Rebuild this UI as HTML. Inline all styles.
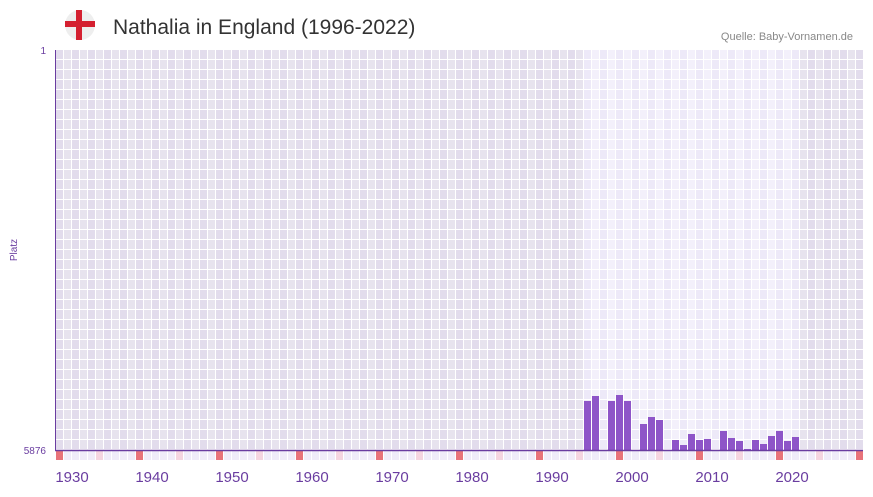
<!DOCTYPE html>
<html><head><meta charset="utf-8"><style>
body{margin:0;background:#fff;width:873px;height:492px;overflow:hidden;font-family:"Liberation Sans",sans-serif}
</style></head><body>
<svg width="873" height="492" xmlns="http://www.w3.org/2000/svg">
<defs>
<pattern id="pd" x="56" y="50" width="16" height="10" patternUnits="userSpaceOnUse">
<rect width="16" height="10" fill="#fff"/>
<rect x="0" y="0" width="7" height="9" fill="#e2dcec"/>
<rect x="8" y="0" width="7" height="9" fill="#e7e3ee"/>
</pattern>
<pattern id="pl" x="56" y="50" width="16" height="10" patternUnits="userSpaceOnUse">
<rect width="16" height="10" fill="#fff"/>
<rect x="0" y="0" width="7" height="9" fill="#ede9f8"/>
<rect x="8" y="0" width="7" height="9" fill="#f3f0fb"/>
</pattern>
<pattern id="pm" x="56" y="451" width="8" height="9" patternUnits="userSpaceOnUse">
<rect width="8" height="9" fill="#fff"/>
<rect width="7" height="9" fill="#f0ecf9"/>
</pattern>
</defs>
<circle cx="80" cy="25" r="15" fill="#eee"/>
<rect x="65" y="21" width="30" height="6" fill="#d42030"/>
<rect x="76" y="10" width="6" height="30" fill="#d42030"/>
<text x="113" y="34" font-size="21" fill="#333">Nathalia in England (1996-2022)</text>
<text x="853" y="40" font-size="11" fill="#888" text-anchor="end">Quelle: Baby-Vornamen.de</text>
<rect x="56" y="50" width="807" height="400" fill="url(#pd)"/>
<rect x="584" y="50" width="216" height="400" fill="url(#pl)"/>
<rect x="56" y="451" width="807" height="9" fill="url(#pm)"/>
<g fill="#e8737a">
<rect x="56" y="451" width="7" height="9"/><rect x="136" y="451" width="7" height="9"/><rect x="216" y="451" width="7" height="9"/><rect x="296" y="451" width="7" height="9"/><rect x="376" y="451" width="7" height="9"/><rect x="456" y="451" width="7" height="9"/><rect x="536" y="451" width="7" height="9"/><rect x="616" y="451" width="7" height="9"/><rect x="696" y="451" width="7" height="9"/><rect x="776" y="451" width="7" height="9"/><rect x="856" y="451" width="7" height="9"/>
</g>
<g fill="#f5d5e0">
<rect x="96" y="451" width="7" height="9"/><rect x="176" y="451" width="7" height="9"/><rect x="256" y="451" width="7" height="9"/><rect x="336" y="451" width="7" height="9"/><rect x="416" y="451" width="7" height="9"/><rect x="496" y="451" width="7" height="9"/><rect x="576" y="451" width="7" height="9"/><rect x="656" y="451" width="7" height="9"/><rect x="736" y="451" width="7" height="9"/><rect x="816" y="451" width="7" height="9"/>
</g>
<g fill="#8e55c8">
<rect x="584" y="401" width="7" height="49"/>
<rect x="592" y="396" width="7" height="54"/>
<rect x="608" y="401" width="7" height="49"/>
<rect x="616" y="395" width="7" height="55"/>
<rect x="624" y="401" width="7" height="49"/>
<rect x="640" y="424" width="7" height="26"/>
<rect x="648" y="417" width="7" height="33"/>
<rect x="656" y="420" width="7" height="30"/>
<rect x="672" y="440" width="7" height="10"/>
<rect x="680" y="445" width="7" height="5"/>
<rect x="688" y="434" width="7" height="16"/>
<rect x="696" y="440" width="7" height="10"/>
<rect x="704" y="439" width="7" height="11"/>
<rect x="720" y="431" width="7" height="19"/>
<rect x="728" y="438" width="7" height="12"/>
<rect x="736" y="441" width="7" height="9"/>
<rect x="744" y="449" width="7" height="1"/>
<rect x="752" y="440" width="7" height="10"/>
<rect x="760" y="444" width="7" height="6"/>
<rect x="768" y="436" width="7" height="14"/>
<rect x="776" y="431" width="7" height="19"/>
<rect x="784" y="441" width="7" height="9"/>
<rect x="792" y="437" width="7" height="13"/>
</g>
<line x1="55.5" y1="50" x2="55.5" y2="451" stroke="#6a3da0" stroke-width="1"/>
<line x1="55" y1="450.5" x2="863" y2="450.5" stroke="#6a3da0" stroke-width="1.5"/>
<g font-size="10" fill="#6a3da0" text-anchor="end">
<text x="46" y="54">1</text>
<text x="46" y="454">5876</text>
</g>
<text x="17" y="250" font-size="10" fill="#6a3da0" text-anchor="middle" transform="rotate(-90 17 250)">Platz</text>
<g font-size="15" fill="#6a3da0" text-anchor="middle">
<text x="72" y="482">1930</text><text x="152" y="482">1940</text><text x="232" y="482">1950</text><text x="312" y="482">1960</text><text x="392" y="482">1970</text><text x="472" y="482">1980</text><text x="552" y="482">1990</text><text x="632" y="482">2000</text><text x="712" y="482">2010</text><text x="792" y="482">2020</text>
</g>
</svg>
</body></html>
